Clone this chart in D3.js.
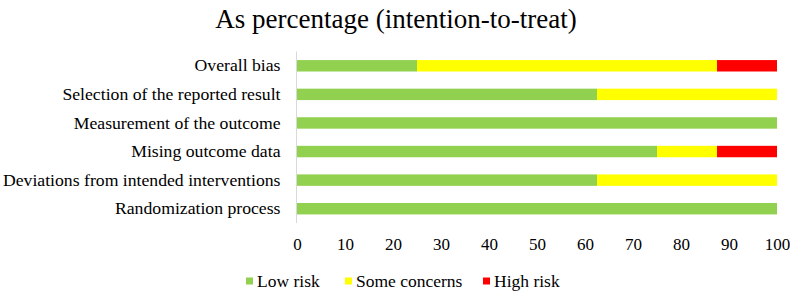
<!DOCTYPE html>
<html>
<head>
<meta charset="utf-8">
<script src="https://cdn.jsdelivr.net/npm/d3@7"></script>
<style>
  body { margin: 0; background: #fff; }
  svg text { font-family: "Liberation Serif", "Times New Roman", serif; fill: #000; }
</style>
</head>
<body>
<div id="chart"></div>
<script>
// Domains, top to bottom
const domains = [
  "Overall bias",
  "Selection of the reported result",
  "Measurement of the outcome",
  "Mising outcome data",
  "Deviations from intended interventions",
  "Randomization process"
];
const lowRisk = [25, 62.5, 100, 75, 62.5, 100];
const someConcerns = [62.5, 37.5, 0, 12.5, 37.5, 0];
const highRisk = [12.5, 0, 0, 12.5, 0, 0];
const seriesNames = ["Low risk", "Some concerns", "High risk"];
const xTicks = [0, 10, 20, 30, 40, 50, 60, 70, 80, 90, 100];

const width = 790;
const height = 292;
const margin = { top: 51.5, right: 13, bottom: 69, left: 297 };
const colors = ["#92D050", "#FFFF00", "#FF0000"];
const serif = '"Liberation Serif", "Times New Roman", serif';

const rows = domains.map((d, i) => ({
  domain: d,
  "Low risk": lowRisk[i],
  "Some concerns": someConcerns[i],
  "High risk": highRisk[i]
}));

const stacked = d3.stack().keys(seriesNames)(rows);

const svg = d3.select("#chart").append("svg")
  .attr("width", width)
  .attr("height", height)
  .style("font-family", serif);

// Title
svg.append("text")
  .attr("x", 396)
  .attr("y", 28)
  .attr("text-anchor", "middle")
  .style("font-size", "27px")
  .text("As percentage (intention-to-treat)");

const x = d3.scaleLinear().domain([0, 100]).range([margin.left, width - margin.right]);
const y = d3.scaleBand()
  .domain(domains)
  .range([margin.top, height - margin.bottom])
  .paddingInner(0.6)
  .paddingOuter(0.3);

const color = d3.scaleOrdinal().domain(seriesNames).range(colors);

// Bars
svg.append("g")
  .selectAll("g")
  .data(stacked)
  .join("g")
  .attr("fill", (s) => color(s.key))
  .selectAll("rect")
  .data((s) => s)
  .join("rect")
  .attr("x", (d) => x(d[0]))
  .attr("y", (d) => y(d.data.domain))
  .attr("width", (d) => x(d[1]) - x(d[0]))
  .attr("height", y.bandwidth());

// Y axis (light line, labels on the left)
const yAxis = svg.append("g")
  .attr("transform", `translate(${margin.left - 0.5},0)`)
  .call(d3.axisLeft(y).tickSize(0).tickPadding(16));
yAxis.attr("font-family", serif).attr("font-size", 17.7);
yAxis.select(".domain").attr("stroke", "#d9d9d9").attr("d", `M0,${margin.top}V${height - margin.bottom}`);

// X axis (labels only)
const xAxis = svg.append("g")
  .attr("transform", `translate(0,${height - margin.bottom})`)
  .call(d3.axisBottom(x).tickValues(xTicks).tickSize(0).tickPadding(15));
xAxis.attr("font-family", serif).attr("font-size", 17);
xAxis.select(".domain").remove();

// Legend
const legendX = [246, 345, 483];
const legend = svg.append("g").attr("transform", "translate(0,281)");
seriesNames.forEach((name, i) => {
  const g = legend.append("g").attr("transform", `translate(${legendX[i]},0)`);
  g.append("rect").attr("x", 0).attr("y", -3.5).attr("width", 7).attr("height", 7).attr("fill", color(name));
  g.append("text").attr("x", 11).attr("y", 0).attr("dy", "0.35em").style("font-size", "17.5px").text(name);
});
</script>
</body>
</html>
